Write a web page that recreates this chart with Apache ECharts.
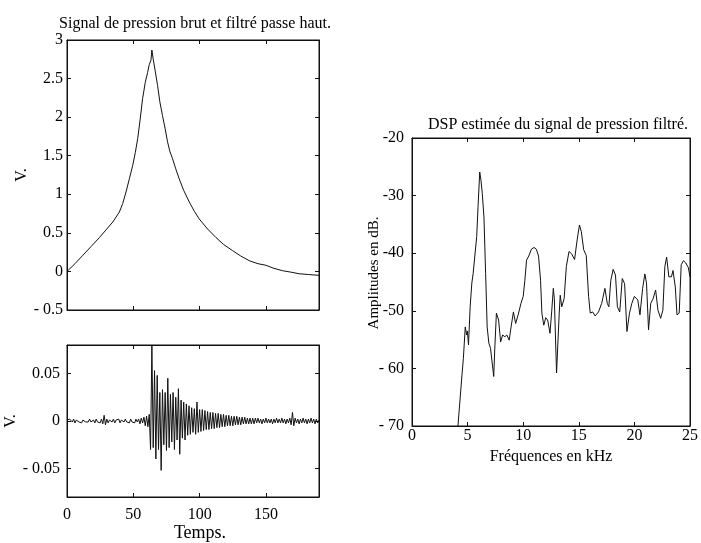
<!DOCTYPE html>
<html>
<head>
<meta charset="utf-8">
<script src="https://cdn.jsdelivr.net/npm/echarts@6/dist/echarts.min.js"></script>
<style>
html,body{margin:0;padding:0;background:#fff;}
#chart{width:701px;height:543px;}
</style>
</head>
<body>
<div id="chart"></div>
<script>
// ---- Data: raw pressure signal (Temps, V.) ----
const pressureT = [0, 6, 12, 18, 24.5, 30, 34.5, 39.5, 42, 44.5, 47, 49.5, 51.5, 53.3, 55, 57, 59, 60.8, 62, 63.3, 64, 65, 66.5, 68.3, 70, 72, 74, 75.8, 77.5, 79.6, 82, 84.6, 88, 92.2, 96, 99.7, 106, 112.3, 118, 124.8, 131, 137.3, 144, 149.9, 156, 162.4, 169, 175, 182, 189.3, 190];
const pressureV = [0.0, 0.1, 0.21, 0.32, 0.44, 0.55, 0.64, 0.77, 0.88, 1.03, 1.2, 1.37, 1.54, 1.72, 1.95, 2.24, 2.45, 2.58, 2.68, 2.74, 2.87, 2.75, 2.6, 2.41, 2.2, 2.02, 1.85, 1.68, 1.56, 1.46, 1.33, 1.2, 1.05, 0.9, 0.78, 0.68, 0.55, 0.44, 0.35, 0.27, 0.2, 0.14, 0.1, 0.08, 0.04, 0.01, -0.01, -0.03, -0.04, -0.05, -0.05];

// ---- Data: high-pass filtered signal, one sample per time unit (0..190) ----
const highpassV = [
  0.001,-0.001,0.002,0.000,-0.001,0.002,-0.002,0.001,0.000,-0.001,
  0.001,-0.002,0.001,0.000,-0.001,0.001,-0.001,0.002,-0.001,0.000,
  0.001,-0.002,0.002,-0.001,0.001,-0.002,0.002,-0.003,0.006,-0.004,
  0.002,-0.002,0.001,0.000,-0.001,0.002,-0.002,0.001,-0.001,0.002,
  -0.002,0.001,0.000,-0.001,0.002,-0.001,0.001,-0.002,0.002,-0.001,
  0.001,-0.002,0.002,-0.001,0.002,-0.003,0.003,-0.002,0.004,-0.005,
  0.005,-0.006,0.007,-0.030,0.079,-0.028,0.053,-0.040,0.048,-0.030,
  0.030,-0.052,0.033,-0.025,0.030,-0.031,0.045,-0.028,0.028,-0.022,
  0.030,-0.030,0.025,-0.020,0.034,-0.035,0.022,-0.018,0.020,-0.020,
  0.018,-0.015,0.016,-0.014,0.014,-0.012,0.013,-0.014,0.020,-0.012,
  0.012,-0.011,0.012,-0.010,0.011,-0.009,0.010,-0.009,0.009,-0.008,
  0.009,-0.008,0.008,-0.007,0.008,-0.007,0.007,-0.006,0.007,-0.006,
  0.006,-0.005,0.006,-0.005,0.005,-0.005,0.005,-0.004,0.005,-0.004,
  0.004,-0.004,0.004,-0.003,0.004,-0.003,0.003,-0.003,0.003,-0.003,
  0.003,-0.003,0.003,-0.002,0.003,-0.002,0.002,-0.003,0.002,-0.002,
  0.003,-0.002,0.002,-0.002,0.002,-0.003,0.002,-0.002,0.003,-0.002,
  0.002,-0.002,0.003,-0.002,0.002,-0.003,0.002,-0.002,0.003,-0.004,
  0.009,-0.005,0.003,-0.002,0.002,-0.003,0.002,-0.002,0.003,-0.002,
  0.002,-0.003,0.002,-0.002,0.003,-0.002,0.002,-0.003,0.002,-0.002,0.001
];

// ---- Data: estimated PSD (kHz, dB) ----
const dspFreq = [4.05, 4.5, 4.62, 4.79, 4.91, 4.98, 5.08, 5.23, 5.38, 5.5, 5.65, 5.82, 5.94, 6.09, 6.2, 6.32, 6.47, 6.62, 6.76, 6.91, 7.06, 7.2, 7.35, 7.44, 7.59, 7.79, 7.97, 8.15, 8.35, 8.53, 8.74, 8.91, 9.12, 9.32, 9.56, 9.8, 10.0, 10.15, 10.3, 10.5, 10.74, 10.97, 11.18, 11.38, 11.56, 11.68, 11.85, 12.03, 12.2, 12.41, 12.56, 12.71, 12.8, 13.0, 13.24, 13.33, 13.47, 13.68, 13.88, 14.12, 14.35, 14.62, 14.85, 15.06, 15.23, 15.44, 15.67, 15.88, 16.03, 16.25, 16.47, 16.77, 17.06, 17.35, 17.56, 17.7, 17.88, 18.09, 18.3, 18.47, 18.68, 18.91, 19.12, 19.33, 19.56, 19.77, 20.0, 20.3, 20.5, 20.74, 20.94, 21.09, 21.27, 21.47, 21.68, 21.91, 22.12, 22.36, 22.56, 22.74, 22.9, 23.1, 23.33, 23.47, 23.68, 23.83, 24.03, 24.21, 24.41, 24.62, 24.85, 25.0];
const dspDb = [-72, -61, -58.3, -52.8, -54.2, -53.5, -55.9, -49.3, -45.2, -43.5, -43.8, -37.1, -31.9, -25.9, -27.3, -29.6, -33.7, -43.5, -52.8, -55.6, -56.5, -56.3, -61.4, -56.8, -50.4, -51.6, -55.4, -54.2, -54.5, -54.2, -55.1, -52.8, -50.2, -52.2, -50.6, -48.7, -47.5, -44.7, -41.2, -40.5, -39.3, -39.0, -39.3, -40.5, -44.7, -50.4, -52.5, -51.2, -51.6, -53.9, -50.2, -46.1, -47.9, -60.8, -50.4, -47.3, -49.3, -47.9, -42.3, -39.7, -40.1, -41.1, -37.7, -35.1, -36.3, -39.4, -40.4, -47.5, -50.4, -50.2, -50.9, -50.2, -48.7, -46.1, -48.7, -49.3, -44.7, -42.8, -43.8, -49.3, -50.2, -44.4, -45.3, -53.6, -50.4, -48.7, -47.5, -48.1, -50.7, -46.1, -43.6, -45.2, -53.3, -48.7, -47.9, -46.4, -49.9, -51.3, -49.9, -42.3, -40.7, -44.1, -44.1, -43.0, -45.9, -50.7, -50.4, -42.0, -41.3, -41.7, -42.5, -44.1];

// ---- Tick labels ----
const pressureTicks = [-0.5, 0, 0.5, 1, 1.5, 2, 2.5, 3];
const highpassTicks = [-0.05, 0, 0.05];
const timeTicks = [0, 50, 100, 150];
const freqTicks = [0, 5, 10, 15, 20, 25];
const dbTicks = [-70, -60, -50, -40, -30, -20];

const FONT = '"Liberation Serif", "Times New Roman", serif';
const INK = '#111';

function minusFmt(v) { return v < 0 ? '- ' + String(Math.abs(v)) : String(v); }
function dbFmt(v) { return v <= -60 ? '- ' + Math.abs(v) : String(v); }

function frameAxis(base) {
  return Object.assign({
    axisLine: { show: true, onZero: false, lineStyle: { color: INK, width: 1 } },
    axisTick: { show: true, inside: true, length: 4, lineStyle: { color: INK } },
    splitLine: { show: false },
    axisLabel: { show: false }
  }, base);
}
const lbl = { color: '#000', fontFamily: FONT, fontSize: 16 };

const chart = echarts.init(document.getElementById('chart'), null, { renderer: 'canvas' });
chart.setOption({
  animation: false,
  backgroundColor: '#fff',
  title: [
    { text: 'Signal de pression brut et filtré passe haut.', left: 190, top: 11, textAlign: 'center',
      textStyle: { fontFamily: FONT, fontSize: 16, fontWeight: 'normal', color: '#000' } },
    { text: 'DSP estimée du signal de pression filtré.', left: 553, top: 112, textAlign: 'center',
      textStyle: { fontFamily: FONT, fontSize: 16, fontWeight: 'normal', color: '#000' } }
  ],
  grid: [
    { left: 67, top: 40, width: 252, height: 270, show: true, borderColor: INK, borderWidth: 1, containLabel: false },
    { left: 67, top: 345, width: 252, height: 160, show: true, borderColor: INK, borderWidth: 1, containLabel: false },
    { left: 412, top: 138, width: 283, height: 288, show: true, borderColor: INK, borderWidth: 1, containLabel: false }
  ],
  xAxis: [
    frameAxis({ type: 'value', gridIndex: 0, min: 0, max: 190, interval: 50, position: 'bottom' }),
    frameAxis({ type: 'value', gridIndex: 1, min: 0, max: 190, interval: 50, position: 'bottom',
      axisLabel: Object.assign({ show: true, margin: 10, customValues: timeTicks }, lbl),
      name: 'Temps.', nameLocation: 'middle', nameGap: 27,
      nameTextStyle: { fontFamily: FONT, fontSize: 18, color: '#000', padding: [0, 0, 0, 14] } }),
    frameAxis({ type: 'value', gridIndex: 2, min: 0, max: 25, interval: 5, position: 'bottom',
      axisLabel: Object.assign({ show: true, margin: 2, customValues: freqTicks }, lbl),
      name: 'Fréquences en kHz', nameLocation: 'middle', nameGap: 21,
      nameTextStyle: { fontFamily: FONT, fontSize: 16, color: '#000' } }),
    frameAxis({ type: 'value', gridIndex: 0, min: 0, max: 190, interval: 50, position: 'top' }),
    frameAxis({ type: 'value', gridIndex: 1, min: 0, max: 190, interval: 50, position: 'top' }),
    frameAxis({ type: 'value', gridIndex: 2, min: 0, max: 25, interval: 5, position: 'top' })
  ],
  yAxis: [
    frameAxis({ type: 'value', gridIndex: 0, min: -0.5, max: 3, interval: 0.5, position: 'left',
      axisLabel: Object.assign({ show: true, margin: 4, customValues: pressureTicks, formatter: minusFmt }, lbl),
      name: 'V.', nameLocation: 'middle', nameGap: 33,
      nameTextStyle: { fontFamily: FONT, fontSize: 16, color: '#000' } }),
    frameAxis({ type: 'value', gridIndex: 1, min: -0.08, max: 0.08, position: 'left',
      axisTick: { show: true, inside: true, length: 4, lineStyle: { color: INK }, customValues: highpassTicks },
      axisLabel: Object.assign({ show: true, margin: 7, customValues: highpassTicks, formatter: minusFmt }, lbl),
      name: 'V.', nameLocation: 'middle', nameGap: 41,
      nameTextStyle: { fontFamily: FONT, fontSize: 16, color: '#000' } }),
    frameAxis({ type: 'value', gridIndex: 2, min: -70, max: -20, interval: 10, position: 'left',
      axisLabel: Object.assign({ show: true, margin: 8, customValues: dbTicks, formatter: dbFmt }, lbl),
      name: 'Amplitudes en dB.', nameLocation: 'middle', nameGap: 30, nameMoveOverlap: false,
      nameTextStyle: { fontFamily: FONT, fontSize: 15, color: '#000', padding: [0, 0, 0, 18] } }),
    frameAxis({ type: 'value', gridIndex: 0, min: -0.5, max: 3, interval: 0.5, position: 'right' }),
    frameAxis({ type: 'value', gridIndex: 1, min: -0.08, max: 0.08, position: 'right',
      axisTick: { show: true, inside: true, length: 4, lineStyle: { color: INK }, customValues: highpassTicks } }),
    frameAxis({ type: 'value', gridIndex: 2, min: -70, max: -20, interval: 10, position: 'right' })
  ],
  series: [
    { type: 'line', xAxisIndex: 0, yAxisIndex: 0, showSymbol: false, clip: true,
      lineStyle: { color: INK, width: 1 },
      data: pressureT.map((t, i) => [t, pressureV[i]]) },
    { type: 'line', xAxisIndex: 1, yAxisIndex: 1, showSymbol: false, clip: true,
      lineStyle: { color: INK, width: 1 },
      data: highpassV.map((v, i) => [i, v]) },
    { type: 'line', xAxisIndex: 2, yAxisIndex: 2, showSymbol: false, clip: true,
      lineStyle: { color: INK, width: 1 },
      data: dspFreq.map((f, i) => [f, dspDb[i]]) }
  ]
});
</script>
</body>
</html>
